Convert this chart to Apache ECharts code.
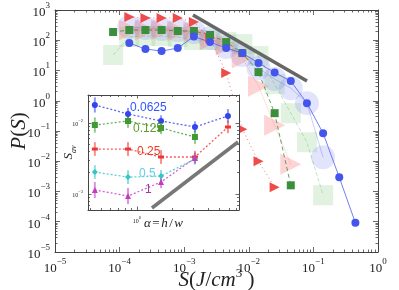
<!DOCTYPE html>
<html><head><meta charset="utf-8">
<script src="https://cdn.jsdelivr.net/npm/echarts@6/dist/echarts.min.js"></script>
<style>html,body{margin:0;padding:0;background:#fff}#c{width:399px;height:290px}</style>
</head><body><div id="c"></div><script>
// ---- main plot data: energy bins S (J/cm^3) and P(S) ----
const sBins = [7.94e-5, 1.413e-4, 2.512e-4, 4.467e-4, 7.943e-4, 1.413e-3, 2.512e-3, 4.467e-3, 7.943e-3, 1.413e-2, 2.512e-2, 4.467e-2, 7.943e-2, 0.1413, 0.2512, 0.4467];
const pBlue     = [null, 80.7, 51.2, 43.9, 55.2, 132.7, 87.1, 55.2, 37.7, 17.6, 8.51, 4.46, 0.834, 0.0845, 0.00295, 9.2e-5];
const pGreen    = [187, 218, 218, 218, 202, 202, 149, 87, 37.7, 8.85, 0.388, 0.0016, null, null, null, null];
const pRed      = [null, 586, 543, 543, 543, 401, 118, 8.2, 0.115, 0.0100, 0.00138, null, null, null, null, null];
const pBlueBig  = [null, 274, 253, 235, 218, 187, 118, 59.6, 32.4, 12.0, 5.19, 2.61, 0.834, 0.0135, null, null];
const pGreenBig = [32.4, 128, 138, 138, 128, 102, 102, 87.1, 74.8, 30.0, 3.55, 0.388, 0.0426, 7.5e-4, null, null];
const pRedBig   = [null, 218, 218, 218, 202, 187, 102, 69.3, 25.8, 3.04, 0.156, 0.0080, null, null, null, null];
const guideX = [1.367e-3, 0.0796];
const guideY = [682, 4.46];
const mainXTicks = [1e-5, 1e-4, 1e-3, 1e-2, 1e-1, 1];
const mainYTicks = [1e-5, 1e-4, 1e-3, 1e-2, 1e-1, 1, 10, 100, 1000];

// ---- inset data: S_av vs alpha = h/w ----
const alpha = [0.44, 0.84, 1.6, 3.1, 5.9];
const insetNames = ['0.0625', '0.125', '0.25', '0.5', '1'];
const sav0625 = [0.01795, 0.0134, 0.01067, 0.00878, 0.01256];
const sav125  = [0.00937, 0.01067, 0.00851, 0.00635, null];
const sav25   = [0.00430, 0.00430, 0.00332, 0.00332, 0.00878];
const sav5    = [0.00204, 0.00173, 0.00179, 0.00311, null];
const sav1    = [0.00114, 0.000937, 0.001476, 0.00321, null];
const err0625 = [0.28, 0.22, 0.2, 0.2, 0.25];
const err125  = [0.28, 0.25, 0.22, 0.25, null];
const err25   = [0.25, 0.25, 0.25, 0.22, 0.22];
const err5    = [0.25, 0.25, 0.22, 0.2, null];
const err1    = [0.3, 0.3, 0.22, 0.2, null];
const insetGuideX = [1.34, 7.18];
const insetGuideY = [6.36e-4, 5.4e-3];
const insetXTicks = [1];
const insetYTicks = [1e-3, 1e-2];

const SERIF = "'Liberation Serif','DejaVu Serif',serif";
const SANS = "'Liberation Sans','DejaVu Sans',sans-serif";

function minors(lo, hi) { // log minor tick positions between decades
  const out = [];
  for (let d = lo; d < hi; d++) for (let m = 2; m <= 9; m++) out.push(m * Math.pow(10, d));
  return out;
}
function supFmt(v) {
  const e = Math.round(Math.log10(v));
  return '{b|10}{s|' + (e < 0 ? '\u2212' + (-e) : e) + '}';
}
const mainRich = {
  b: { fontFamily: SERIF, fontSize: 13, color: '#222', lineHeight: 18, verticalAlign: 'bottom' },
  s: { fontFamily: SERIF, fontSize: 9, color: '#222', lineHeight: 18, verticalAlign: 'top' }
};
const insetRich = {
  b: { fontFamily: SERIF, fontSize: 6, color: '#222', lineHeight: 9, verticalAlign: 'bottom' },
  s: { fontFamily: SERIF, fontSize: 4.5, color: '#222', lineHeight: 9, verticalAlign: 'top' }
};

function axis(gridIndex, pos, min, max, ticks, isMinor, showLabel, rich, tickLen, z, extra) {
  return Object.assign({
    type: 'log', logBase: 10, gridIndex, position: pos, min, max, z, nameMoveOverlap: false,
    axisLine: { show: !isMinor, onZero: false, lineStyle: { color: '#444', width: 1 } },
    axisTick: { show: true, inside: true, length: tickLen, customValues: ticks, lineStyle: { color: '#444', width: 0.8 } },
    axisLabel: showLabel ? { show: true, customValues: ticks, formatter: supFmt, rich, margin: 5 } : { show: false },
    splitLine: { show: false }, minorTick: { show: false }, minorSplitLine: { show: false }
  }, extra || {});
}

const mx = [0.99999e-5, 1.00001];
const my = [0.99999e-5, 1000.01];
const ix = [0.385, 7.32];
const iy = [5.96e-4, 0.02477];

const xAxes = [
  axis(0, 'bottom', mx[0], mx[1], mainXTicks, false, true, mainRich, 5, 0, {
    name: '{i|S}{n|(}{i|J}{n|/}{i|cm}{s|3}{n| )}', nameLocation: 'middle', nameGap: 15,
    nameTextStyle: { rich: {
      i: { fontFamily: SERIF, fontStyle: 'italic', fontSize: 21, color: '#222', lineHeight: 24, verticalAlign: 'bottom' },
      n: { fontFamily: SERIF, fontSize: 21, color: '#222', lineHeight: 24, verticalAlign: 'bottom' },
      s: { fontFamily: SERIF, fontSize: 13, color: '#222', lineHeight: 24, verticalAlign: 'top' } } }
  }),
  axis(0, 'bottom', mx[0], mx[1], minors(-5, 0), true, false, null, 2.5, 0),
  axis(0, 'top', mx[0], mx[1], mainXTicks, false, false, null, 5, 0),
  axis(0, 'top', mx[0], mx[1], minors(-5, 0), true, false, null, 2.5, 0),
  axis(1, 'bottom', ix[0], ix[1], insetXTicks, false, true, insetRich, 3.5, 6, {
    name: '{i|\u03b1}{n|=}{i|h}{n|/}{i|w}', nameLocation: 'middle', nameGap: 7,
    nameTextStyle: { rich: {
      i: { fontFamily: SERIF, fontStyle: 'italic', fontSize: 13, color: '#222' },
      n: { fontFamily: SERIF, fontSize: 13, color: '#222', padding: [0, 1.5, 0, 1.5] } } }
  }),
  axis(1, 'bottom', ix[0], ix[1], minors(-1, 1), true, false, null, 2, 6),
  axis(1, 'top', ix[0], ix[1], insetXTicks, false, false, null, 3.5, 6),
  axis(1, 'top', ix[0], ix[1], minors(-1, 1), true, false, null, 2, 6)
];
const yAxes = [
  axis(0, 'left', my[0], my[1], mainYTicks, false, true, mainRich, 5, 0, {
    name: '{i|P}{n|(}{i|S}{n|)}', nameLocation: 'middle', nameGap: 25,
    nameTextStyle: { rich: {
      i: { fontFamily: SERIF, fontStyle: 'italic', fontSize: 21, color: '#222' },
      n: { fontFamily: SERIF, fontSize: 21, color: '#222' } } }
  }),
  axis(0, 'left', my[0], my[1], minors(-5, 3), true, false, null, 2.5, 0),
  axis(0, 'right', my[0], my[1], mainYTicks, false, false, null, 5, 0),
  axis(0, 'right', my[0], my[1], minors(-5, 3), true, false, null, 2.5, 0),
  axis(1, 'left', iy[0], iy[1], insetYTicks, false, true, insetRich, 3.5, 6, {
    name: '{i|S}{sub|av}', nameLocation: 'middle', nameGap: 10,
    nameTextStyle: { rich: {
      i: { fontFamily: SERIF, fontStyle: 'italic', fontSize: 13, color: '#222', lineHeight: 16, verticalAlign: 'top' },
      sub: { fontFamily: SERIF, fontStyle: 'italic', fontSize: 8, color: '#222', lineHeight: 16, verticalAlign: 'bottom' } } }
  }),
  axis(1, 'left', iy[0], iy[1], minors(-4, -1), true, false, null, 2, 6),
  axis(1, 'right', iy[0], iy[1], insetYTicks, false, false, null, 3.5, 6),
  axis(1, 'right', iy[0], iy[1], minors(-4, -1), true, false, null, 2, 6)
];

function pairs(xs, ys) { return xs.map((x, i) => ys[i] == null ? null : [x, ys[i]]).filter(d => d); }

function mainLine(ys, symbol, size, color, lineColor, type, z, extra) {
  return Object.assign({
    type: 'line', xAxisIndex: 0, yAxisIndex: 0, data: pairs(sBins, ys), symbol, symbolSize: size,
    itemStyle: { color, borderWidth: 0 }, lineStyle: { color: lineColor, width: 1, type },
    z, silent: true, animation: false, clip: true
  }, extra || {});
}

const insetColors = ['#3344ee', '#3f9a34', '#ee3535', '#33c4c4', '#c23bc2'];
const insetSymbols = ['circle', 'rect', 'rect', 'diamond', 'triangle'];
const insetSizes = [6, 6, [6, 3], 6, 6];
const insetVals = [sav0625, sav125, sav25, sav5, sav1];
const insetErrs = [err0625, err125, err25, err5, err1];

const series = [
  mainLine(pGreenBig, 'rect', 20, 'rgba(120,195,120,0.22)', 'rgba(120,195,120,0.45)', 'dashed', 2),
  mainLine(pBlueBig, 'circle', 24, 'rgba(110,120,235,0.2)', 'rgba(100,110,235,0.35)', 'solid', 2),
  mainLine(pRedBig, 'triangle', 21, 'rgba(250,140,140,0.38)', 'rgba(250,130,130,0.5)', 'dotted', 2, { symbolRotate: -90 }),
  mainLine(pRed, 'triangle', 10, '#ee4b4b', 'rgba(238,75,75,0.75)', [1, 3], 3, { symbolRotate: -90 }),
  mainLine(pGreen, 'rect', 8, '#3b8e3b', 'rgba(59,142,59,0.8)', [4, 3], 3),
  mainLine(pBlue, 'circle', 8, '#4455ee', 'rgba(68,85,238,0.75)', 'solid', 3),
  { type: 'line', xAxisIndex: 0, yAxisIndex: 0, data: pairs(guideX, guideY), symbol: 'none',
    lineStyle: { color: '#666', width: 3.5 }, z: 4, silent: true, animation: false },
  { type: 'line', xAxisIndex: 4, yAxisIndex: 4, data: pairs(insetGuideX, insetGuideY), symbol: 'none',
    lineStyle: { color: '#777', width: 3.5 }, z: 10, silent: true, animation: false }
];
insetVals.forEach((vals, k) => {
  const col = insetColors[k];
  series.push({
    type: 'custom', xAxisIndex: 4, yAxisIndex: 4, z: 10, silent: true, animation: false,
    data: alpha.map((a, i) => vals[i] == null ? null : [a, vals[i] / (1 + insetErrs[k][i]), vals[i] * (1 + insetErrs[k][i])]).filter(d => d),
    renderItem: (params, api) => {
      const p1 = api.coord([api.value(0), api.value(1)]);
      const p2 = api.coord([api.value(0), api.value(2)]);
      return { type: 'line', shape: { x1: p1[0], y1: p1[1], x2: p2[0], y2: p2[1] },
        style: { stroke: col, lineWidth: 2, opacity: 0.55 } };
    }
  });
  series.push({
    type: 'line', xAxisIndex: 4, yAxisIndex: 4, z: 11, silent: true, animation: false,
    data: pairs(alpha, vals), symbol: insetSymbols[k], symbolSize: insetSizes[k],
    itemStyle: { color: col }, lineStyle: { color: col, width: 1.3, type: [2, 2], opacity: 0.8 }
  });
});

const labelColors = ['#3355ff', '#5f9a25', '#ee3a22', '#66ccee', '#a833a8'];
const labelPos = [[130, 102], [133, 123], [137, 146], [139, 168], [145, 184]];
const graphics = insetNames.map((t, k) => ({
  type: 'text', x: labelPos[k][0], y: labelPos[k][1], z: 20,
  style: { text: t, fill: labelColors[k], font: '12px ' + SANS }
}));

const chart = echarts.init(document.getElementById('c'), null, { renderer: 'canvas' });
chart.setOption({
  animation: false,
  backgroundColor: '#fff',
  grid: [
    { left: 55, top: 10, right: 21, bottom: 38, containLabel: false, outerBoundsMode: 'none' },
    { left: 88, top: 95, width: 151, height: 115, show: true, backgroundColor: '#fff', borderWidth: 0, z: 5, containLabel: false, outerBoundsMode: 'none' }
  ],
  xAxis: xAxes,
  yAxis: yAxes,
  series,
  graphic: graphics
});
</script></body></html>
